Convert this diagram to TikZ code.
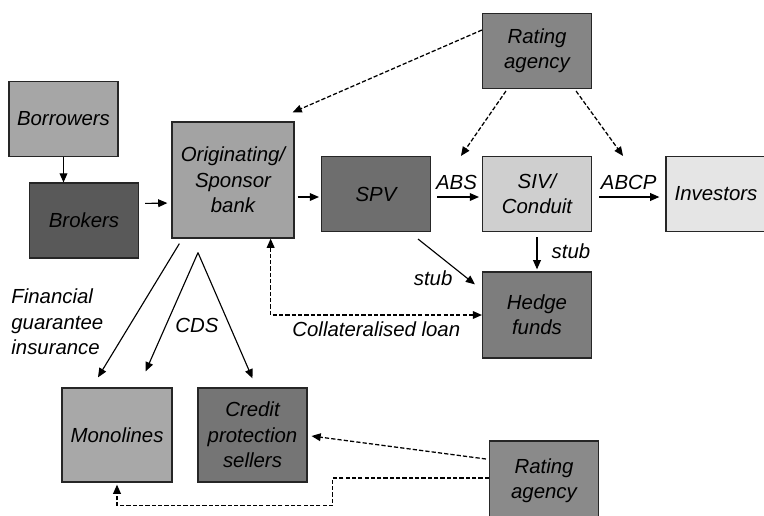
\documentclass[tikz,border=0pt]{standalone}
\usepackage{fontspec}
\setmainfont{Liberation Sans}
\usepackage{xcolor}
\usetikzlibrary{arrows.meta, positioning, calc}

\begin{document}
\begin{tikzpicture}[x=0.025cm, y=-0.025cm,
  every node/.style={font=\fontsize{14.5}{18}\selectfont\itshape},
  box/.style={draw=black!85, line width=0.9pt, inner sep=0pt, align=center,
              minimum width=2.72cm, minimum height=1.87cm},
  arr/.style={-{Triangle[length=6.5pt, width=5.5pt]}, line width=0.8pt},
  darr/.style={arr, line width=0.9pt, dash pattern=on 3pt off 1.5pt},
  lbl/.style={inner sep=1.5pt}]
  \useasboundingbox (0,0) rectangle (764,515);

  % --- boxes
  \node[box, fill=black!35] (borrowers) at (63.5,119) {Borrowers};
  \node[box, fill=black!65] (brokers) at (84,220.5) {Brokers};
  \node[box, fill=black!36, minimum width=3.05cm, minimum height=2.9cm]
    (orig) at (233,180) {Originating/\\Sponsor\\bank};
  \node[box, fill=black!57] (spv) at (376,194) {SPV};
  \node[box, fill=black!48] (rtop) at (537,51) {Rating\\agency};
  \node[box, fill=black!19] (siv) at (537,194) {SIV/\\Conduit};
  \node[box, fill=black!10, minimum width=2.5cm] (investors) at (716,194) {Investors};
  \node[box, fill=black!51, minimum height=2.15cm] (hedge) at (537,315) {Hedge\\funds};
  \node[box, fill=black!34, minimum width=2.75cm, minimum height=2.35cm]
    (monolines) at (117,435) {Monolines};
  \node[box, fill=black!54, minimum width=2.72cm, minimum height=2.35cm]
    (credit) at (252.5,435) {Credit\\protection\\sellers};
  \node[box, fill=black!46, minimum height=2cm] (rbot) at (544,481) {Rating\\agency};

  % --- solid flows
  \draw[arr] (borrowers.south) -- (borrowers.south |- brokers.north);
  \draw[arr, shorten <=1.5mm, shorten >=1mm]
    ($(brokers.east)+(0,-17)$) -- ($(orig.west)+(0,23)$);
  \draw[arr, shorten <=0.75mm, shorten >=0.5mm]
    ($(orig.east)+(0,17)$) -- ($(spv.west)+(0,3)$);
  \draw[arr, shorten <=1.5mm, shorten >=0.75mm]
    ($(spv.east)+(0,3)$) -- ($(siv.west)+(0,3)$) node[midway, above=3pt, lbl] {ABS};
  \draw[arr, shorten <=1.75mm, shorten >=1.5mm]
    ($(siv.east)+(0,3)$) -- ($(investors.west)+(0,3)$) node[midway, above=3pt, lbl] {ABCP};
  \draw[arr, shorten <=1.25mm, shorten >=0.5mm]
    (siv.south) -- (hedge.north) node[midway, right=0.3cm, lbl] {stub};
  \draw[arr] ($(spv.south east)+(-13,7)$) -- ($(hedge.north west)+(-7,13)$)
    node[pos=0.65, below left, lbl] {stub};

  % --- guarantees and CDS
  \draw[arr] ($(orig.south west)+(8,5)$) -- ($(monolines.north)+(-19,-10)$);
  \coordinate (cds) at ($(orig.south)+(-35,14)$);
  \draw[arr] (cds) -- ($(monolines.north east)+(-27,-16)$);
  \draw[arr] (cds) -- ($(credit.north)+(0,-9)$);
  \node[lbl] (cdslbl) at (197,325) {CDS};
  \node[lbl, align=left, anchor=west] (fgi) at (9,322) {Financial\\guarantee\\insurance};

  % --- collateralised loan
  \draw[darr, {Triangle[length=6.5pt, width=5.5pt]}-{Triangle[length=6.5pt, width=5.5pt]}]
    ($(orig.south east)+(-24,0)$) |- (hedge.west)
    node[pos=0.75, below=3pt, lbl] {Collateralised loan};

  % --- ratings (dashed)
  \draw[darr] ($(rtop.west)+(0,-21)$) -- ($(orig.north east)+(-2,-9)$);
  \draw[darr] ($(rtop.south west)+(24,2)$) -- ($(siv.north west)+(-21,0)$);
  \draw[darr] ($(rtop.south east)+(-16,2)$) -- ($(siv.north east)+(31,0)$);
  \draw[darr] ($(rbot.west)+(-3,-22)$) -- ($(credit.east)+(4,1)$);
  \draw[darr] ($(rbot.west)+(0,-3)$) -| ($(credit.south east)+(25,23)$)
    -| ($(monolines.south)+(0,2)$);
\end{tikzpicture}
\end{document}
